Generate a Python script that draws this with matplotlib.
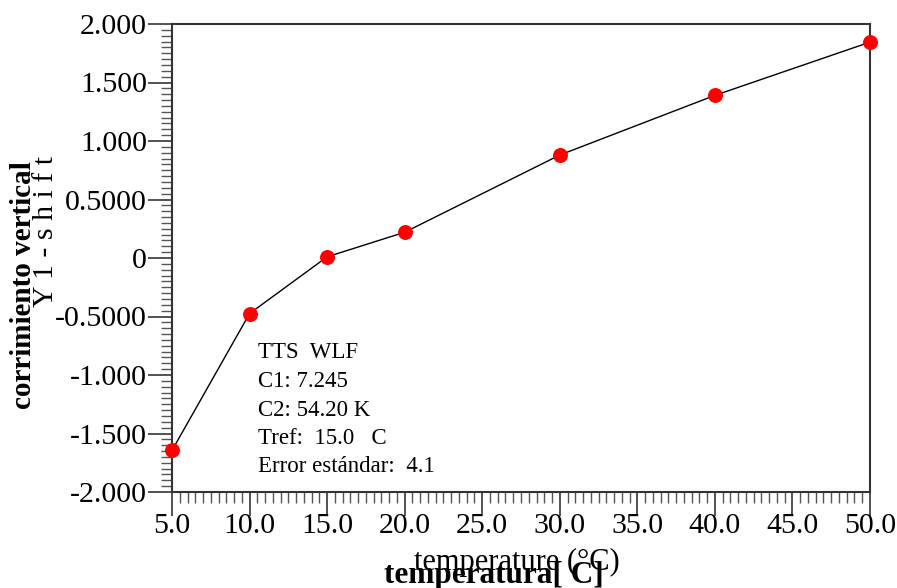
import matplotlib.pyplot as plt
import numpy as np
from matplotlib.ticker import MultipleLocator, FormatStrFormatter

# data
temp = [5.0, 10.0, 15.0, 20.0, 30.0, 40.0, 50.0]
shift = [-1.645, -0.475, 0.01, 0.22, 0.88, 1.39, 1.845]

xticks = [5.0, 10.0, 15.0, 20.0, 25.0, 30.0, 35.0, 40.0, 45.0, 50.0]
yticks = [-2.0, -1.5, -1.0, -0.5, 0.0, 0.5, 1.0, 1.5, 2.0]
ylabels = ["-2.000", "-1.500", "-1.000", "-0.5000", "0", "0.5000", "1.000", "1.500", "2.000"]

info = ["TTS  WLF", "C1: 7.245", "C2: 54.20 K", "Tref:  15.0   C", "Error est\u00e1ndar:  4.1"]

plt.rcParams["font.family"] = ["Liberation Serif", "DejaVu Serif"]

fig = plt.figure(figsize=(8.97, 5.88), dpi=100)
ax = fig.add_axes([172 / 897, 1 - 492 / 588, (870 - 172) / 897, (492 - 24) / 588])

ax.plot(temp, shift, color="black", linewidth=1, zorder=2)
ax.scatter(temp, shift, s=95, color="#ff0000", zorder=3, clip_on=False)

ax.set_xlim(5.0, 50.0)
ax.set_ylim(-2.0, 2.0)
ax.set_xticks(xticks)
ax.xaxis.set_major_formatter(FormatStrFormatter("%.1f"))
ax.set_yticks(yticks)
ax.set_yticklabels(ylabels)
ax.xaxis.set_minor_locator(MultipleLocator(0.5))
ax.yaxis.set_minor_locator(MultipleLocator(0.05))

ax.tick_params(axis="both", which="major", direction="out", length=17, width=1.3,
               color="#444444", labelsize=21.5)
ax.tick_params(axis="both", which="minor", direction="out", length=8, width=1,
               color="#555555")
ax.tick_params(axis="x", which="major", pad=-2)
ax.tick_params(axis="y", which="major", pad=1)

for side in ["left", "bottom", "right", "top"]:
    ax.spines[side].set_linewidth(1.5)
    ax.spines[side].set_color("#333333")

# overlapping axis titles
fig.text(517 / 897, 1 - 562 / 588, "temperature (\u00b0C)", fontsize=22,
         ha="center", va="center")
fig.text(494 / 897, 1 - 575 / 588, "temperatura[ C]", fontsize=22.5, fontweight="bold",
         ha="center", va="center")
fig.text(46 / 897, 1 - 231 / 588, "Y 1 - s h i f t", fontsize=21.5, rotation=90,
         ha="center", va="center")
fig.text(24 / 897, 1 - 285 / 588, "corrimiento vertical", fontsize=21, fontweight="bold",
         rotation=90, ha="center", va="center")

# fit parameters box
for i, line in enumerate(info):
    fig.text(258 / 897, 1 - (353 + i * 28.5) / 588, line, fontsize=16.5,
             ha="left", va="center")

plt.savefig("out.png", dpi=100)
